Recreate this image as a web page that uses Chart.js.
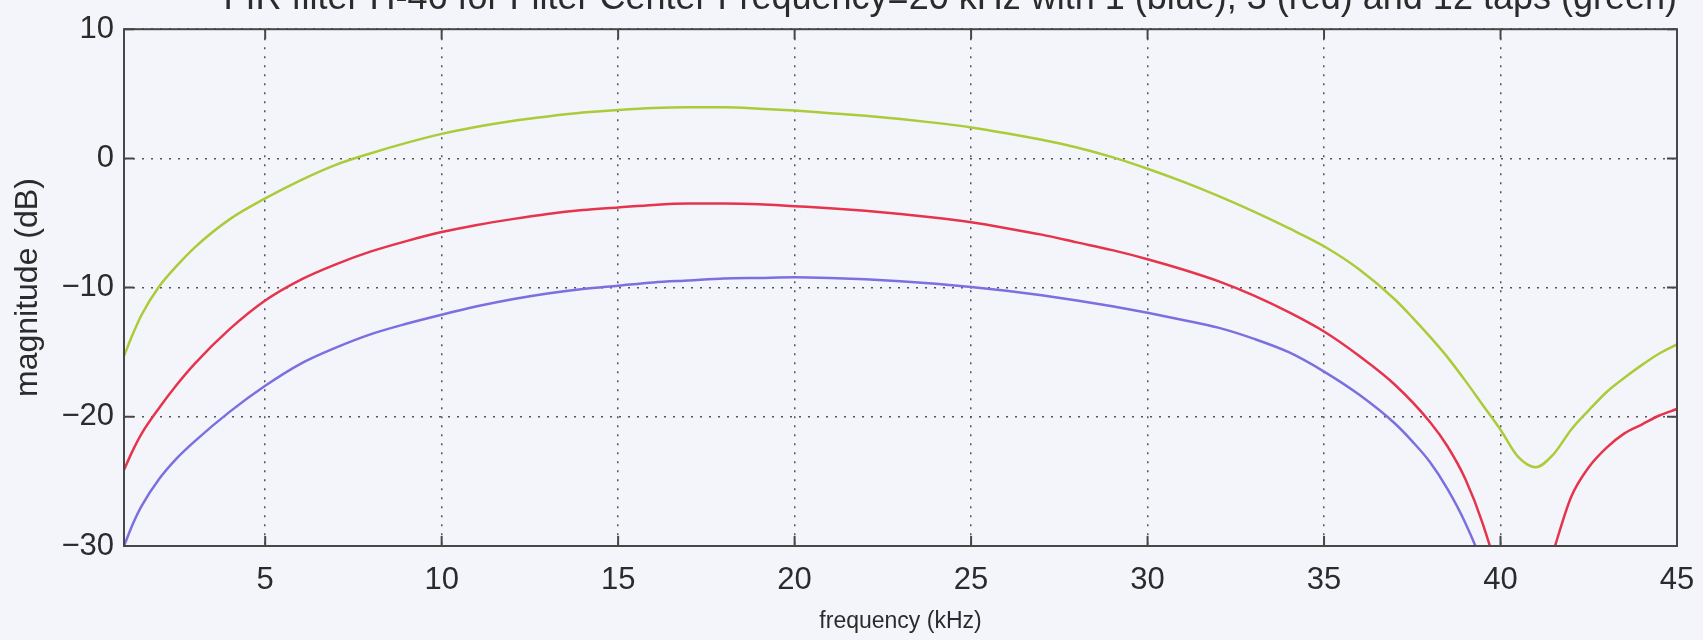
<!DOCTYPE html>
<html>
<head>
<meta charset="utf-8">
<title>FIR filter magnitude response</title>
<script src="https://cdn.jsdelivr.net/npm/chart.js@4/dist/chart.umd.min.js"></script>
<style>
  html, body { margin: 0; padding: 0; background: #f3f5fb; overflow: hidden; }
  #wrap { position: absolute; left: 0; top: -23px; width: 1703px; height: 663px; }
</style>
</head>
<body>
<div id="wrap"><canvas id="chart"></canvas></div>
<script>
// values (frequency in kHz, magnitude in dB)
const freq12 = [1, 1.25, 1.5, 2, 2.5, 3, 4, 5, 6, 7, 8, 9, 10, 11, 12, 13, 14, 15, 16, 17, 18, 19, 20, 21, 22, 23, 24, 25, 26, 27, 28, 29, 30, 31, 32, 33, 34, 35, 36, 37, 37.5, 38, 38.5, 39, 39.5, 40, 40.5, 41, 41.5, 42, 42.5, 43, 43.5, 44, 44.5, 45];
const mag12 = [-15.3, -13.6, -12.1, -9.9, -8.3, -6.9, -4.7, -3.1, -1.7, -0.5, 0.4, 1.2, 1.9, 2.45, 2.9, 3.25, 3.55, 3.75, 3.9, 3.95, 3.95, 3.85, 3.7, 3.5, 3.3, 3.05, 2.75, 2.4, 1.95, 1.45, 0.85, 0.1, -0.8, -1.8, -2.9, -4.1, -5.4, -6.8, -8.6, -10.9, -12.3, -13.8, -15.4, -17.2, -19.1, -21.0, -23.1, -23.9, -22.9, -21.0, -19.5, -18.1, -17.0, -16.0, -15.1, -14.4];

const freq3 = [1, 1.25, 1.5, 2, 2.5, 3, 4, 5, 6, 7, 8, 9, 10, 11, 12, 13, 14, 15, 16, 17, 18, 19, 20, 21, 22, 23, 24, 25, 26, 27, 28, 29, 30, 31, 32, 33, 34, 35, 36, 37, 38, 38.5, 39, 39.5, 40, 40.5, 41, 41.5, 42, 42.5, 43, 43.5, 44, 44.5, 45];
const mag3 = [-24.1, -22.6, -21.3, -19.3, -17.5, -15.9, -13.2, -11.0, -9.4, -8.2, -7.2, -6.4, -5.7, -5.15, -4.7, -4.3, -4.0, -3.8, -3.6, -3.5, -3.5, -3.55, -3.7, -3.85, -4.05, -4.3, -4.6, -4.95, -5.4, -5.9, -6.5, -7.1, -7.8, -8.6, -9.5, -10.6, -11.9, -13.4, -15.3, -17.5, -20.4, -22.3, -24.8, -28.3, -33, -40, -35, -30.4, -26.2, -23.9, -22.4, -21.3, -20.6, -19.9, -19.4];

const freq1 = [1, 1.25, 1.5, 2, 2.5, 3, 4, 5, 6, 7, 8, 9, 10, 11, 12, 13, 14, 15, 16, 17, 18, 19, 20, 21, 22, 23, 24, 25, 26, 27, 28, 29, 30, 31, 32, 33, 34, 35, 36, 37, 37.5, 38, 38.5, 39, 39.5, 40];
const mag1 = [-30, -28.3, -26.9, -24.8, -23.2, -21.9, -19.6, -17.6, -15.9, -14.65, -13.6, -12.8, -12.1, -11.45, -10.9, -10.45, -10.1, -9.85, -9.6, -9.45, -9.3, -9.25, -9.2, -9.25, -9.35, -9.5, -9.7, -9.95, -10.25, -10.6, -11.0, -11.45, -11.95, -12.5, -13.1, -13.95, -15.0, -16.5, -18.3, -20.5, -21.9, -23.5, -25.6, -28.2, -31.5, -36];

const xTicks = [5, 10, 15, 20, 25, 30, 35, 40, 45];
const yTicks = [-30, -20, -10, 0, 10];

const titleText = 'FIR filter H-46 for Filter Center Frequency=20 kHz with 1 (blue), 3 (red) and 12 taps (green)';

const pts = (xs, ys) => xs.map((x, i) => ({ x: x, y: ys[i] }));

const fontFam = '"Liberation Sans", Arial, Helvetica, sans-serif';
const axisColor = '#474747';
const textColor = '#2b2b2b';

// MATLAB-like box with inward tick marks
const boxPlugin = {
  id: 'box',
  afterDraw(chart) {
    const { ctx, chartArea: a, scales } = chart;
    ctx.save();
    ctx.strokeStyle = axisColor;
    ctx.lineWidth = 2;
    ctx.strokeRect(a.left, a.top, a.right - a.left, a.bottom - a.top);
    const len = 10;
    ctx.beginPath();
    xTicks.forEach(v => {
      const px = scales.x.getPixelForValue(v);
      ctx.moveTo(px, a.bottom); ctx.lineTo(px, a.bottom - len);
      ctx.moveTo(px, a.top); ctx.lineTo(px, a.top + len);
    });
    yTicks.forEach(v => {
      const py = scales.y.getPixelForValue(v);
      ctx.moveTo(a.left, py); ctx.lineTo(a.left + len, py);
      ctx.moveTo(a.right, py); ctx.lineTo(a.right - len, py);
    });
    ctx.stroke();
    ctx.restore();
  }
};

const line = (label, data, color) => ({
  label: label,
  data: data,
  borderColor: color,
  borderWidth: 2.5,
  pointRadius: 0,
  fill: false,
  cubicInterpolationMode: 'monotone'
});

new Chart(document.getElementById('chart'), {
  type: 'line',
  data: {
    datasets: [
      line('12 taps', pts(freq12, mag12), '#abcb38'),
      line('3 taps', pts(freq3, mag3), '#e5344c'),
      line('1 tap', pts(freq1, mag1), '#7c6fe0')
    ]
  },
  options: {
    responsive: true,
    maintainAspectRatio: false,
    animation: false,
    events: [],
    layout: { padding: { left: 0, right: 26, top: 0, bottom: 0 } },
    plugins: {
      legend: { display: false },
      tooltip: { enabled: false },
      title: {
        display: true,
        text: titleText,
        align: 'end',
        color: textColor,
        font: { family: fontFam, size: 36, weight: 'normal' },
        padding: { top: 0, bottom: 9 }
      }
    },
    scales: {
      x: {
        type: 'linear',
        min: 1,
        max: 45,
        afterBuildTicks: s => { s.ticks = xTicks.map(v => ({ value: v })); },
        afterFit: s => { s.height = 94; s.paddingLeft = 0; s.paddingRight = 0; },
        grid: { color: '#555', lineWidth: 1.5, drawTicks: false },
        border: { display: false, dash: [2, 7] },
        ticks: { color: textColor, font: { family: fontFam, size: 31 }, padding: 16, maxRotation: 0 },
        title: { display: true, text: 'frequency (kHz)', color: textColor, font: { family: fontFam, size: 23 }, padding: { top: 0, bottom: 5 } }
      },
      y: {
        min: -30,
        max: 10,
        afterBuildTicks: s => { s.ticks = yTicks.map(v => ({ value: v })); },
        afterFit: s => { s.width = 124; },
        grid: { color: '#555', lineWidth: 1.5, drawTicks: false },
        border: { display: false, dash: [2, 7] },
        ticks: {
          color: textColor,
          font: { family: fontFam, size: 31 },
          padding: 10,
          callback: v => String(v).replace('-', '\u2212')
        },
        title: { display: true, text: 'magnitude (dB)', color: textColor, font: { family: fontFam, size: 32 }, padding: { top: 9, bottom: 0 } }
      }
    }
  },
  plugins: [boxPlugin]
});
</script>
</body>
</html>
